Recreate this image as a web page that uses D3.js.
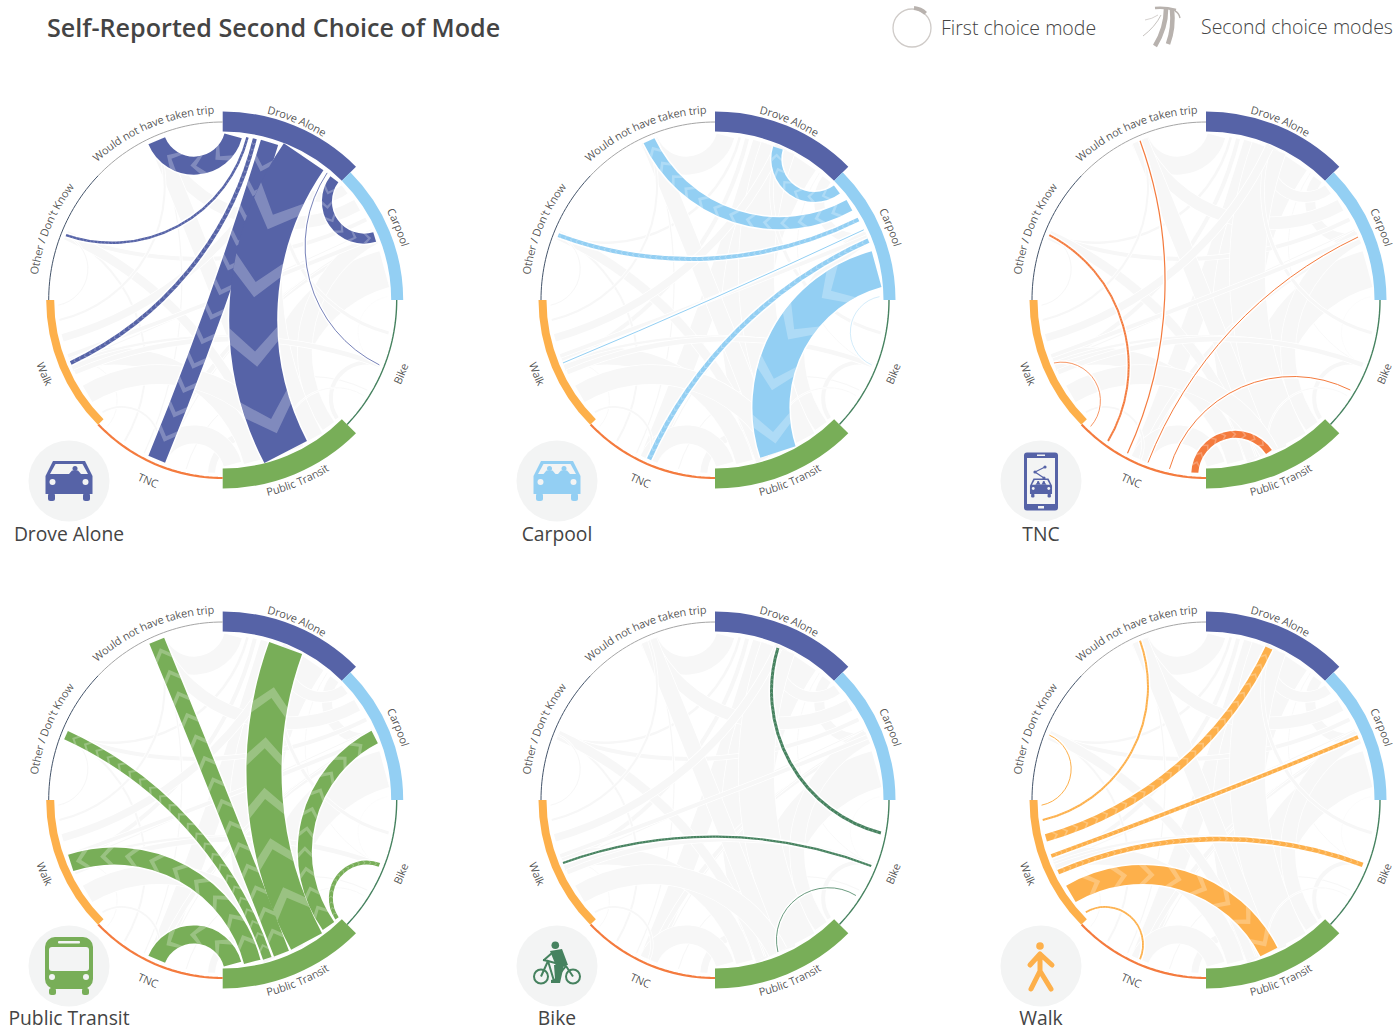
<!DOCTYPE html>
<html>
<head>
<meta charset="utf-8">
<title>Self-Reported Second Choice of Mode</title>
<script src="https://cdn.jsdelivr.net/npm/d3@7"></script>
<style>
  body { margin: 0; background: #fff; }
  text { font-family: "Open Sans", sans-serif; fill: #444; }
</style>
</head>
<body>
<svg id="chart" width="1400" height="1033"></svg>
<script>
// Modes run clockwise from the top of each circle
const modes = ["Drove Alone", "Carpool", "Bike", "Public Transit", "TNC", "Walk", "Other / Don't Know", "Would not have taken trip"];
const modeColors = ["#5663a7", "#93cff3", "#46825f", "#78ae58", "#f47b3e", "#fdb04b", "#44546a", "#a6a6a6"];

// Share of all trips by first choice mode, sets the ring thickness
const modeShare = [10, 6, 0.7, 10, 1.1, 4, 0.5, 0.5];

// Second choice share for each first choice, same order as modes
const droveAloneChoices = [0, 5, 0.4, 24, 9, 2, 1.25, 9];
const carpoolChoices = [5, 0, 0.2, 18.5, 2.25, 0.5, 2, 6];
const bikeChoices = [1.5, 0, 0, 0.4, 0, 1.1, 0, 0];
const transitChoices = [17.5, 7, 2, 0, 9, 8.5, 4.5, 8];
const tncChoices = [0, 0.5, 0.5, 3.5, 0, 0.4, 1, 0.6];
const walkChoices = [3.75, 1.9, 2.3, 9.5, 0.9, 0, 0.5, 1];
const secondChoices = [droveAloneChoices, carpoolChoices, bikeChoices, transitChoices, tncChoices, walkChoices];

// Panels in reading order, index into modes
const panelModes = [0, 1, 4, 3, 2, 5];
const panelX = [222.7, 715, 1206];
const panelY = [300, 800];
const badgeX = [69, 557, 1041];

const svg = d3.select("#chart");

const angle = d3.scaleBand().domain(modes).range([0, 2 * Math.PI]);
const shareWidth = d3.scaleLinear().domain([0, 10]).range([0, 20]);
const flowWidth = d3.scaleLinear().domain([0, 24]).range([0, 48]);

const innerR = 168.5;
const ringRx = 174;
const ringRy = 178;

function isBand(m) {
  return shareWidth(modeShare[m]) > 5;
}

// the thin rings are very slightly taller than wide in the original
function ringRadius(a) {
  const s = Math.sin(a) / ringRx, c = Math.cos(a) / ringRy;
  return 1 / Math.sqrt(s * s + c * c);
}

function endRadius(m, a) {
  return isBand(m) ? innerR - 4 : ringRadius(a) - 5;
}

function polar(r, a) {
  return [r * Math.sin(a), -r * Math.cos(a)];
}

// Flow positions for one first choice: stacked along its arc, counter clockwise order of the other modes
function layoutFlows(first) {
  const values = secondChoices[first];
  const flows = [];
  for (let k = 1; k < modes.length; k++) {
    const second = (first - k + modes.length) % modes.length;
    if (values[second] > 0) flows.push({ first, second, width: flowWidth(values[second]) });
  }
  const arcLen = angle.bandwidth() * 165;
  const margin = flows.length <= 3 ? 1 : 0.35;
  const gap = (arcLen - d3.sum(flows, d => d.width)) / (flows.length - 1 + 2 * margin);
  let pos = margin * gap;
  const a0 = angle(modes[first]);
  flows.forEach(d => {
    d.sourceAngle = a0 + (pos + d.width / 2) / 165;
    d.targetAngle = angle(modes[d.second]) + angle.bandwidth() / 2;
    // the TNC to Bike flow lands further round than the others in the original
    if (modes[first] === "TNC" && modes[d.second] === "Bike") d.targetAngle += 0.165;
    d.path = flowPath(d);
    pos += d.width + gap;
  });
  return flows;
}

// Circular arc meeting the ring at nearly right angles
function flowPath(d) {
  const p0 = polar(endRadius(d.first, d.sourceAngle), d.sourceAngle);
  const p1 = polar(endRadius(d.second, d.targetAngle), d.targetAngle);
  let diff = Math.abs(d.targetAngle - d.sourceAngle);
  if (diff > Math.PI) diff = 2 * Math.PI - diff;
  const half = Math.hypot(p1[0] - p0[0], p1[1] - p0[1]) / 2;
  const bend = d.width > 40 ? 1.2 : 0.9;
  const sag = bend * half * Math.tan(Math.PI / 4 - diff / 4);
  if (sag < 0.5) return `M${p0}L${p1}`;
  const rho = (half * half + sag * sag) / (2 * sag);
  const cross = p0[0] * p1[1] - p0[1] * p1[0];
  return `M${p0}A${rho},${rho} 0 0 ${cross > 0 ? 0 : 1} ${p1}`;
}

const allFlows = panelModes.flatMap(layoutFlows);

// Chevrons along a flow, pointing to the second choice end
function addChevrons(g, flow, color) {
  const line = g.append("path").attr("d", flow.path).attr("fill", "none").attr("stroke", color).attr("stroke-width", flow.width);
  const node = line.node();
  const len = node.getTotalLength();
  const w = flow.width;
  if (w < 1.5) return;
  const side = (t, off) => {
    const a = node.getPointAtLength(Math.max(t - 0.5, 0));
    const b = node.getPointAtLength(Math.min(t + 0.5, len));
    const n = Math.hypot(b.x - a.x, b.y - a.y);
    const c = node.getPointAtLength(t);
    return [c.x - (b.y - a.y) / n * off, c.y + (b.x - a.x) / n * off];
  };
  const step = w * 1.45, depth = w * 0.5, thick = w * 0.32;
  for (let t = step * 0.6; t + depth + thick < len; t += step) {
    const pts = [side(t, w / 2), side(t + depth, 0), side(t, -w / 2), side(t + thick, -w / 2), side(t + depth + thick, 0), side(t + thick, w / 2)];
    g.append("polygon").attr("points", pts.join(" ")).attr("fill", "#fff").attr("fill-opacity", 0.25);
  }
}

function labelArc(m) {
  const mid = angle(modes[m]) + angle.bandwidth() / 2;
  const top = Math.cos(mid) > 0;
  const outer = isBand(m) ? innerR + shareWidth(modeShare[m]) : ringRadius(mid);
  let r = top ? Math.max(outer + 3, 186.5) : 197;
  if (modes[m] === "Public Transit") r = 201;
  if (modes[m] === "TNC") r = 199.5;
  const p = d3.path();
  const span = 0.95;
  const from = top ? mid - span : mid + span;
  const to = top ? mid + span : mid - span;
  p.moveTo(...polar(r, from));
  p.arc(0, 0, r, from - Math.PI / 2, to - Math.PI / 2, !top);
  return p.toString();
}

function drawPanel(first, idx) {
  const cx = panelX[idx % 3], cy = panelY[Math.floor(idx / 3)];
  const g = svg.append("g").attr("transform", `translate(${cx},${cy})`);

  // every other flow stays as a pale backdrop
  const ghost = g.append("g").attr("fill", "none");
  allFlows.forEach(d => {
    ghost.append("path").attr("d", d.path).attr("stroke", "#fff").attr("stroke-width", d.width + 1.5);
    ghost.append("path").attr("d", d.path).attr("stroke", "#f7f7f7").attr("stroke-width", d.width);
  });

  const flows = allFlows.filter(d => d.first === first);
  const casing = g.append("g").attr("fill", "none");
  flows.forEach(d => {
    casing.append("path").attr("d", d.path).attr("stroke", "#fff").attr("stroke-width", d.width + 3);
    const fg = g.append("g");
    addChevrons(fg, d, modeColors[first]);
  });

  // ring
  const thinRing = d3.line().x(a => ringRadius(a) * Math.sin(a)).y(a => -ringRadius(a) * Math.cos(a));
  modes.forEach((name, m) => {
    const a0 = angle(name), a1 = a0 + angle.bandwidth();
    if (isBand(m)) {
      g.append("path")
        .attr("d", d3.arc()({ innerRadius: innerR, outerRadius: innerR + shareWidth(modeShare[m]), startAngle: a0, endAngle: a1 }))
        .attr("fill", modeColors[m]);
    } else {
      g.append("path")
        .attr("d", thinRing(d3.range(0, 31).map(i => a0 + (a1 - a0) * i / 30)))
        .attr("fill", "none")
        .attr("stroke", modeColors[m])
        .attr("stroke-width", shareWidth(modeShare[m]));
    }
    const id = `label-${idx}-${m}`;
    g.append("path").attr("id", id).attr("d", labelArc(m)).attr("fill", "none");
    g.append("text")
      .attr("font-size", 11)
      .attr("letter-spacing", -0.15)
      .attr("fill-opacity", 0.9)
      .attr("text-anchor", "middle")
      .append("textPath")
      .attr("href", `#${id}`)
      .attr("startOffset", "50%")
      .text(name);
  });
}

panelModes.forEach(drawPanel);

// Badges -------------------------------------------------------------------
const badgeFill = "#f3f4f4";

function drawCar(g, color, heads) {
  g.append("path").attr("fill", color)
    .attr("d", "M-16,-20L16,-20L23.5,-5L23.5,13L-23.5,13L-23.5,-5Z");
  g.append("rect").attr("x", -21).attr("y", 12).attr("width", 7).attr("height", 8).attr("rx", 2.5).attr("fill", color);
  g.append("rect").attr("x", 14).attr("y", 12).attr("width", 7).attr("height", 8).attr("rx", 2.5).attr("fill", color);
  g.append("path").attr("fill", badgeFill).attr("d", "M-13.5,-17L13.5,-17L19,-7L-19,-7Z");
  heads.forEach(x => {
    g.append("circle").attr("cx", x).attr("cy", -12.5).attr("r", 2.5).attr("fill", color);
    g.append("path").attr("fill", color).attr("d", `M${x - 6},-7L${x - 3},-10.5L${x + 3},-10.5L${x + 6},-7Z`);
  });
  [-16.5, 16.5].forEach(x => g.append("circle").attr("cx", x).attr("cy", 1).attr("r", 3).attr("fill", badgeFill));
}

function drawBus(g, color) {
  g.append("rect").attr("x", -24).attr("y", -29).attr("width", 48).attr("height", 52).attr("rx", 10).attr("fill", color);
  g.append("rect").attr("x", -20).attr("y", 22).attr("width", 7).attr("height", 7).attr("rx", 2.5).attr("fill", color);
  g.append("rect").attr("x", 13).attr("y", 22).attr("width", 7).attr("height", 7).attr("rx", 2.5).attr("fill", color);
  g.append("rect").attr("x", -20).attr("y", -19).attr("width", 40).attr("height", 24).attr("rx", 3).attr("fill", badgeFill);
  g.append("rect").attr("x", -11).attr("y", -25).attr("width", 22).attr("height", 2.5).attr("rx", 1).attr("fill", badgeFill);
  [-17, 17].forEach(x => g.append("circle").attr("cx", x).attr("cy", 11).attr("r", 3).attr("fill", badgeFill));
}

function drawPhone(g, color) {
  g.append("rect").attr("x", -17).attr("y", -28.5).attr("width", 34).attr("height", 58).attr("rx", 3).attr("fill", color);
  g.append("rect").attr("x", -14).attr("y", -23).attr("width", 28).attr("height", 46).attr("fill", badgeFill);
  g.append("rect").attr("x", -4).attr("y", -26.5).attr("width", 8).attr("height", 1.5).attr("fill", badgeFill);
  g.append("rect").attr("x", -3).attr("y", 25).attr("width", 6).attr("height", 2.5).attr("fill", badgeFill);
  g.append("path").attr("d", "M4,-14L-6,-9L3,-3").attr("fill", "none").attr("stroke", color).attr("stroke-width", 1.2);
  [[4, -14], [-6, -9], [3, -3]].forEach(p => g.append("circle").attr("cx", p[0]).attr("cy", p[1]).attr("r", 1.6).attr("fill", color));
  const car = g.append("g").attr("transform", "translate(0,7) scale(0.47)");
  drawCar(car, color, [-6, 6]);
}

function drawBike(g, color) {
  [[-16, 10.5], [16, 10.5]].forEach(p => g.append("circle").attr("cx", p[0]).attr("cy", p[1]).attr("r", 7).attr("fill", "none").attr("stroke", color).attr("stroke-width", 2));
  g.append("circle").attr("cx", -1.7).attr("cy", -20.7).attr("r", 3.8).attr("fill", color);
  g.append("path").attr("fill", color).attr("d", "M-7,-15L5,-17L11,-1L-1,0Z");
  g.append("path").attr("fill", "none").attr("stroke", color).attr("stroke-width", 2)
    .attr("d", "M-16,10.5L-9,-5L9,0L16,10.5M-9,-5L-3,15M-9,-5L-14,-6M-3,15L9,0M-5,-13L-13,-6");
  g.append("path").attr("fill", color).attr("d", "M-3,-1L7,-1L3,17L-6,17L-6,14L-2,13Z");
}

function drawWalker(g, color) {
  g.append("circle").attr("cx", -1).attr("cy", -20).attr("r", 3.8).attr("fill", color);
  g.append("path").attr("fill", "none").attr("stroke", color).attr("stroke-width", 5).attr("stroke-linejoin", "round").attr("stroke-linecap", "round")
    .attr("d", "M-11,-1L-1,-12L11,-1M-1,-12L-1,5M-10,23L-1,5L10,23");
}

const badgeDraw = [g => drawCar(g, modeColors[0], [6]), g => drawCar(g, modeColors[1], [-7.5, 7]), g => drawPhone(g, modeColors[0]), g => drawBus(g, modeColors[3]), g => drawBike(g, modeColors[2]), g => drawWalker(g, modeColors[5])];
const badgeNames = ["Drove Alone", "Carpool", "TNC", "Public Transit", "Bike", "Walk"];
const badgeY = [481, 966];
const badgeTextY = [541, 1025];

badgeNames.forEach((name, i) => {
  const x = badgeX[i % 3], row = Math.floor(i / 3);
  const g = svg.append("g").attr("transform", `translate(${x},${badgeY[row]})`);
  g.append("circle").attr("r", 40.5).attr("fill", badgeFill);
  badgeDraw[i](g);
  svg.append("text")
    .attr("x", x)
    .attr("y", badgeTextY[row])
    .attr("text-anchor", "middle")
    .attr("font-size", 19.3)
    .text(name);
});

// Title and legend ---------------------------------------------------------
svg.append("text")
  .attr("x", 47)
  .attr("y", 37)
  .attr("font-size", 25.15)
  .attr("font-weight", 600)
  .text("Self-Reported Second Choice of Mode");

const legendGray = "#b8b2ae";
svg.append("circle").attr("cx", 912).attr("cy", 28).attr("r", 19).attr("fill", "none").attr("stroke", "#cfcbc8").attr("stroke-width", 1.3);
svg.append("path")
  .attr("transform", "translate(912,28)")
  .attr("d", d3.arc()({ innerRadius: 18, outerRadius: 22, startAngle: 0.1, endAngle: 0.75 }))
  .attr("fill", legendGray);
svg.append("text").attr("x", 941).attr("y", 35).attr("font-size", 19.5).attr("font-weight", 300).text("First choice mode");

const fan = svg.append("g").attr("fill", "none").attr("stroke", legendGray);
fan.append("path").attr("d", "M1155,8Q1165,7 1176,10").attr("stroke-width", 2.5);
fan.append("path").attr("d", "M1166,9Q1166,28 1155,46").attr("stroke-width", 4.6);
fan.append("path").attr("d", "M1172,9Q1174,28 1168,44").attr("stroke-width", 4.6);
fan.append("path").attr("d", "M1161,15Q1155,27 1143,36").attr("stroke-width", 0.8);
fan.append("path").attr("d", "M1158,15Q1152,19 1145,20").attr("stroke-width", 0.6);
fan.append("path").attr("d", "M1175,11Q1179,13 1180,18").attr("stroke-width", 1.4);
svg.append("text").attr("x", 1201).attr("y", 34).attr("font-size", 19.5).attr("font-weight", 300).text("Second choice modes");
</script>
</body>
</html>
